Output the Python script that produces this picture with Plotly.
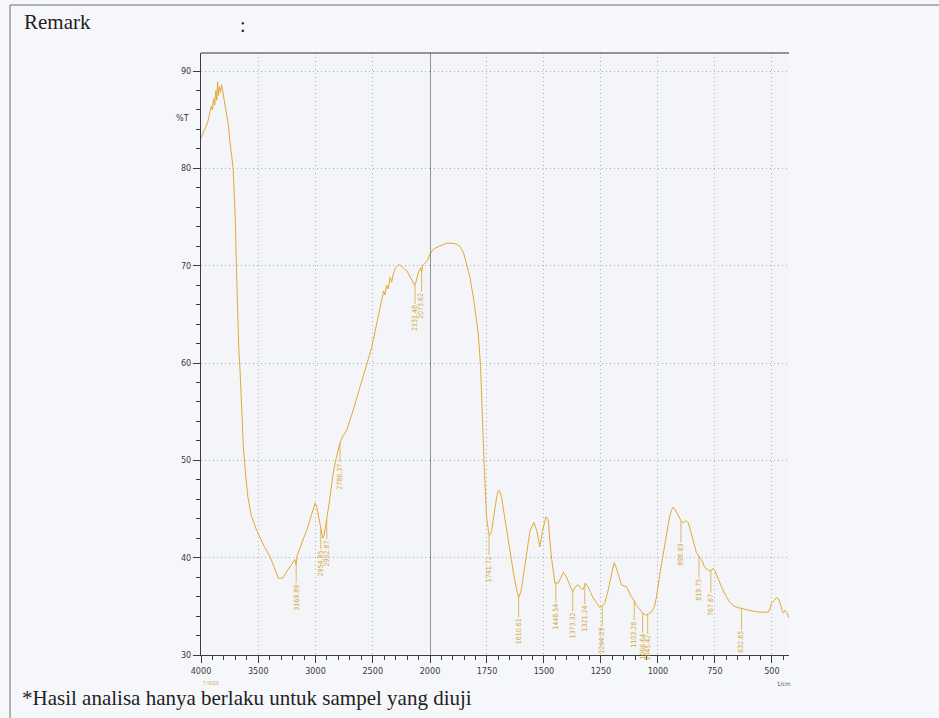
import numpy as np
import plotly.graph_objects as go

# ---------------- data ----------------
# left panel (4000-2000 cm-1, compressed scale)
wn_left = [4000, 3980, 3960, 3940, 3925, 3910, 3900, 3890, 3880, 3870, 3862, 3855, 3848, 3840,
           3830, 3820, 3810, 3800, 3790, 3780, 3770, 3760, 3750, 3740, 3730, 3720, 3710, 3700,
           3690, 3680, 3670, 3660, 3650, 3630, 3610, 3590, 3560, 3514, 3450, 3397, 3360, 3325,
           3300, 3284, 3250, 3200, 3180, 3170, 3160, 3120, 3077, 3040, 3004, 2990, 2970, 2950,
           2937, 2925, 2915, 2902, 2880, 2860, 2845, 2820, 2800, 2786, 2760, 2727, 2680, 2650,
           2611, 2560, 2509, 2470, 2440, 2421, 2405, 2393, 2380, 2365, 2349, 2335, 2320, 2300,
           2276, 2250, 2230, 2203, 2175, 2148, 2135, 2120, 2105, 2090, 2080, 2073, 2065, 2040,
           2022, 2000]
t_left = [83.1, 83.6, 84.2, 84.8, 85.6, 86.4, 86.0, 87.2, 86.5, 88.0, 87.0, 88.9, 87.5, 88.4,
          87.8, 88.6, 87.9, 87.2, 86.6, 85.9, 85.0, 84.4, 83.0, 82.2, 81.3, 80.1, 77.5, 74.5,
          69.5, 65.0, 61.5, 59.5, 56.5, 51.4, 48.5, 46.2, 44.3, 42.8, 41.2, 40.1, 39.0, 37.9,
          37.9, 37.9, 38.6, 39.5, 39.8, 39.3, 40.2, 41.5, 42.8, 44.2, 45.6, 45.3, 44.0, 42.6,
          42.0, 42.3, 43.0, 43.9, 45.6, 47.4, 48.7, 50.2, 51.2, 51.8, 52.5, 53.1, 54.8, 56.0,
          57.5, 59.5, 61.6, 63.8, 65.6, 66.8, 67.4, 67.0, 68.0, 67.6, 68.8, 68.3, 69.2, 69.8,
          70.1, 70.0, 69.7, 69.5, 68.9, 68.3, 68.0, 68.4, 69.2, 69.6, 69.8, 69.3, 70.0, 70.3,
          70.5, 71.2]

# right panel (2000-425 cm-1, expanded scale)
wn_right = [2000, 1985, 1960, 1927, 1900, 1883, 1870, 1861, 1850, 1839, 1825, 1810, 1798, 1788,
            1778, 1771, 1762, 1752, 1745, 1741, 1735, 1729, 1722, 1715, 1707, 1700, 1693, 1686,
            1678, 1671, 1660, 1649, 1635, 1620, 1611, 1600, 1591, 1575, 1561, 1544, 1532, 1518,
            1506, 1491, 1481, 1475, 1466, 1452, 1437, 1425, 1415, 1401, 1388, 1374, 1362, 1350,
            1340, 1329, 1318, 1307, 1295, 1285, 1270, 1256, 1244, 1234, 1222, 1211, 1200, 1192,
            1183, 1175, 1160, 1138, 1117, 1104, 1095, 1084, 1073, 1067, 1051, 1045, 1029, 1015,
            1007, 991, 980, 969, 949, 940, 933, 926, 919, 905, 899, 889, 877, 867, 853, 841,
            831, 820, 809, 795, 779, 768, 760, 750, 735, 721, 700, 684, 665, 654, 640, 633,
            620, 603, 580, 553, 530, 516, 508, 502, 490, 480, 472, 465, 455, 450, 443, 435, 425]
t_right = [71.2, 71.7, 72.0, 72.3, 72.3, 72.2, 72.0, 71.7, 71.1, 70.2, 68.8, 66.8, 65.0, 63.0,
           59.6, 54.4, 49.3, 44.2, 42.6, 42.3, 42.4, 42.8, 44.0, 45.2, 46.3, 46.9, 46.8, 46.2,
           45.0, 43.9, 42.2, 40.5, 38.6, 36.7, 35.9, 36.6, 38.0, 40.6, 42.8, 43.6, 42.8, 41.1,
           42.8, 44.2, 43.9, 42.0, 39.8, 37.4, 37.4, 38.0, 38.5, 38.0, 37.2, 36.5, 37.0, 37.2,
           36.9, 36.7, 37.4, 37.0, 36.4, 35.9, 35.4, 34.9, 35.0, 35.3, 36.3, 37.4, 38.6, 39.5,
           39.0, 38.4, 37.2, 37.0, 36.0, 35.6, 35.1, 34.8, 34.4, 34.3, 34.1, 34.2, 34.4, 35.0,
           35.9, 38.4, 40.0, 41.5, 44.2, 44.9, 45.2, 45.0, 44.7, 44.0, 43.8, 43.6, 43.8, 43.6,
           42.5, 41.4, 40.5, 40.2, 39.8, 39.0, 38.7, 38.6, 38.9, 38.7, 37.8, 37.0, 36.0, 35.4,
           35.0, 34.9, 34.8, 34.8, 34.7, 34.6, 34.5, 34.4, 34.4, 34.4, 34.8, 35.3, 35.6, 35.9,
           35.8, 35.4, 34.6, 34.3, 34.6, 34.4, 33.8]

# labelled peaks
peak_wn = [3169, 2954, 2902, 2786, 2131, 2073, 1741, 1611, 1448, 1374, 1321, 1244, 1104, 1067,
           1045, 899, 820, 768, 633]
peak_labels = ["3169.89", "2954.95", "2902.87", "2786.37", "2131.48", "2073.62", "1741.72",
               "1610.61", "1448.54", "1373.32", "1321.24", "1244.09", "1103.28", "1066.64",
               "1045.42", "898.83", "819.75", "767.67", "632.65"]

y_ticks = [30, 40, 50, 60, 70, 80, 90]
x_ticks_left = [4000, 3500, 3000, 2500, 2000]
x_ticks_right = [1750, 1500, 1250, 1000, 750, 500]

# ---------------- figure ----------------
LINE = "#e3a935"
LABEL = "#d6a93c"
TICKFONT = dict(family="Liberation Sans Narrow, DejaVu Sans Condensed, Arial Narrow, sans-serif",
                size=9, color="#3a3a3a")
GRID = "#aeb2ba"
GRIDDASH = "1px,3px"

fig = go.Figure()
fig.add_trace(go.Scatter(x=wn_left, y=t_left, mode="lines", xaxis="x", yaxis="y",
                         line=dict(color=LINE, width=1), hoverinfo="x+y", showlegend=False))
fig.add_trace(go.Scatter(x=wn_right, y=t_right, mode="lines", xaxis="x2", yaxis="y",
                         line=dict(color=LINE, width=1), hoverinfo="x+y", showlegend=False))

split = 229 / 588.0

common_x = dict(showline=True, linecolor="#3c3c3c", linewidth=1, ticks="outside", ticklen=7,
                tickcolor="#3c3c3c", tickfont=TICKFONT, showgrid=True, gridcolor=GRID,
                griddash=GRIDDASH, gridwidth=1, zeroline=False, anchor="y")

fig.update_layout(
    width=939, height=718,
    margin=dict(l=201, r=150, t=53, b=63),
    paper_bgcolor="#f6f7fa",
    plot_bgcolor="#f3f5f9",
    xaxis=dict(domain=[0, split], range=[4000, 2000], tickmode="array", tickvals=x_ticks_left,
               minor=dict(tickmode="linear", tick0=0, dtick=100, ticklen=4, ticks="outside",
                          tickcolor="#3c3c3c", showgrid=False),
               **common_x),
    xaxis2=dict(domain=[split, 1], range=[2000, 425], tickmode="array", tickvals=x_ticks_right,
                minor=dict(tickmode="linear", tick0=0, dtick=50, ticklen=4, ticks="outside",
                           tickcolor="#3c3c3c", showgrid=False),
                **common_x),
    yaxis=dict(range=[30, 91.85], tickmode="array", tickvals=y_ticks, showline=True,
               linecolor="#3c3c3c", linewidth=1, ticks="outside", ticklen=7, tickcolor="#3c3c3c",
               tickfont=TICKFONT, showgrid=True, gridcolor=GRID, griddash=GRIDDASH, gridwidth=1,
               zeroline=False,
               minor=dict(tickmode="linear", tick0=0, dtick=2, ticklen=4, ticks="outside",
                          tickcolor="#3c3c3c", showgrid=False)),
)

# divider at 2000 cm-1 and top frame
fig.add_shape(type="line", xref="x2", yref="paper", x0=2000, x1=2000, y0=0, y1=1,
              line=dict(color="#333333", width=1))
fig.add_shape(type="line", xref="paper", yref="paper", x0=0, x1=1, y0=1, y1=1,
              line=dict(color="#333333", width=1))
# page frame
fig.add_shape(type="line", xref="paper", yref="paper", x0=-0.3248, x1=1.26, y0=1.0797, y1=1.0797,
              line=dict(color="#6a6a6a", width=1))
fig.add_shape(type="line", xref="paper", yref="paper", x0=-0.3248, x1=-0.3248, y0=-0.11, y1=1.0797,
              line=dict(color="#6a6a6a", width=1))

# peak labels
wl = np.array(wn_left[::-1], dtype=float)
tl = np.array(t_left[::-1], dtype=float)
wr = np.array(wn_right[::-1], dtype=float)
tr = np.array(t_right[::-1], dtype=float)
for w, lab in zip(peak_wn, peak_labels):
    if w >= 2000:
        xa, yv = "x", float(np.interp(w, wl, tl))
    else:
        xa, yv = "x2", float(np.interp(w, wr, tr))
    fig.add_annotation(x=w, y=yv, xref=xa, yref="y", text=lab, textangle=-90,
                       showarrow=True, arrowhead=0, arrowwidth=0.8, arrowcolor=LABEL,
                       ax=0, ay=34, font=dict(family="Liberation Sans Narrow, DejaVu Sans Condensed, sans-serif",
                                              size=7, color=LABEL))

SERIF = "Liberation Serif, Times New Roman, serif"
fig.add_annotation(xref="paper", yref="paper", x=-0.3044, y=1.0515, xanchor="left", yanchor="middle",
                   text="Remark", showarrow=False, font=dict(family=SERIF, size=21, color="#222"))
fig.add_annotation(xref="paper", yref="paper", x=0.0714, y=1.0465, xanchor="center", yanchor="middle",
                   text=":", showarrow=False, font=dict(family=SERIF, size=20, color="#222"))
fig.add_annotation(xref="paper", yref="paper", x=-0.3078, y=-0.0714, xanchor="left", yanchor="middle",
                   text="*Hasil analisa hanya berlaku untuk sampel yang diuji", showarrow=False,
                   font=dict(family=SERIF, size=21, color="#222"))
fig.add_annotation(xref="paper", yref="y", x=-0.017, y=85.2, xanchor="right", yanchor="middle",
                   text="%T", showarrow=False, font=TICKFONT)
fig.add_annotation(xref="paper", yref="paper", x=0.99, y=-0.048, xanchor="center", yanchor="middle",
                   text="1/cm", showarrow=False, font=dict(family=TICKFONT["family"], size=6, color="#555"))
fig.add_annotation(xref="paper", yref="paper", x=0.016, y=-0.046, xanchor="center", yanchor="middle",
                   text="T 0023", showarrow=False, font=dict(family=TICKFONT["family"], size=5, color=LABEL))

fig.write_html("out.html", config={"displayModeBar": False},
               post_script="document.body.style.margin='0';")
